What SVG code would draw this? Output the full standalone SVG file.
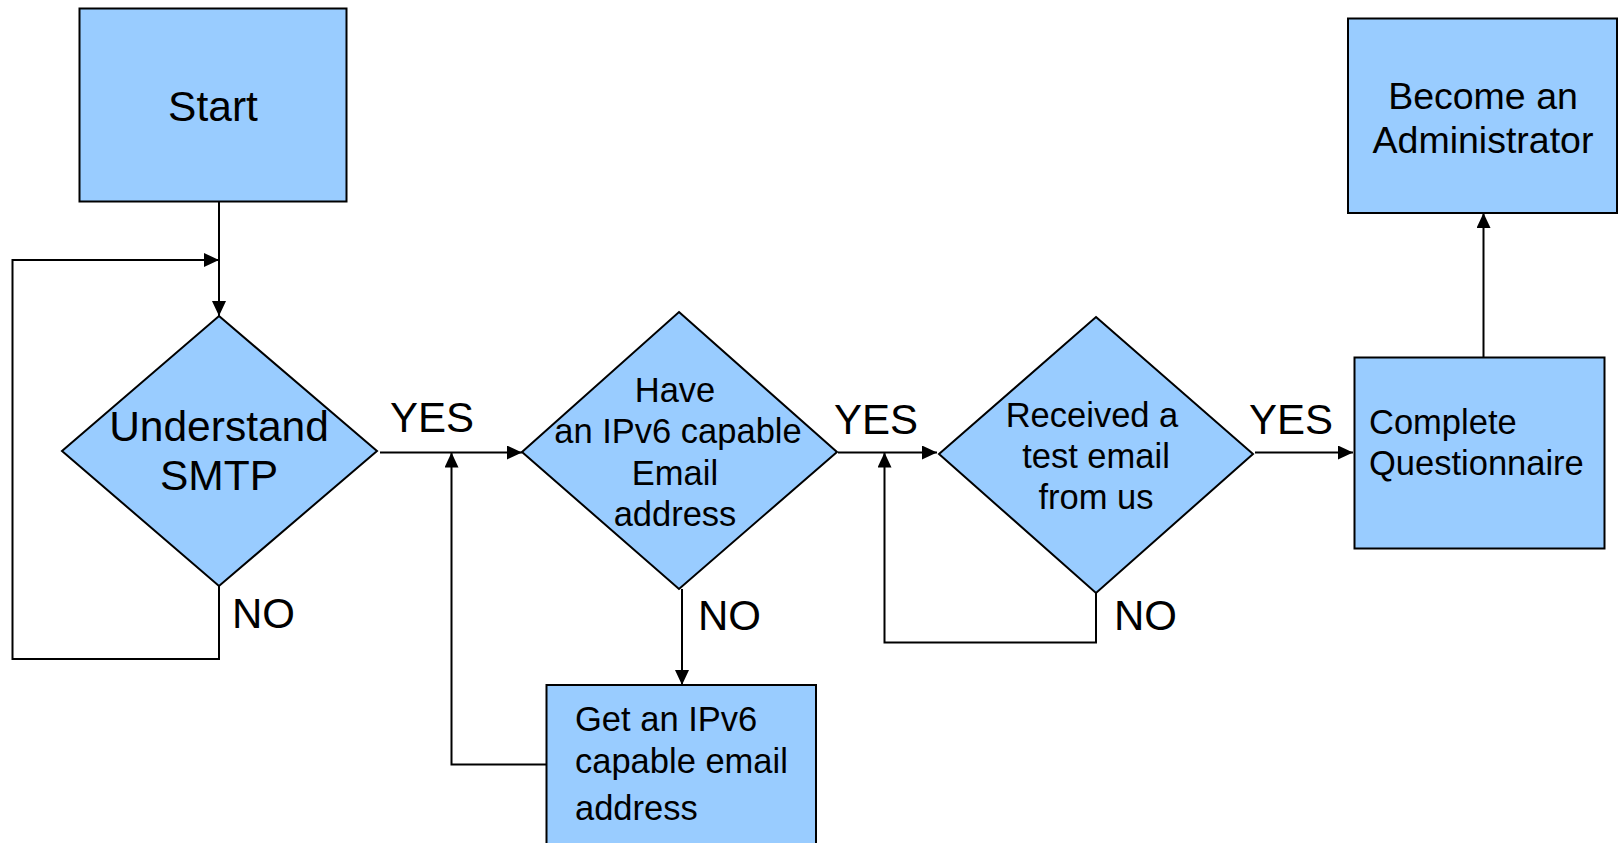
<svg xmlns="http://www.w3.org/2000/svg" width="1620" height="843" viewBox="0 0 1620 843">
<style>
.node{fill:#99ccff;stroke:#000;stroke-width:2}
.t{font-family:"Liberation Sans",Arial,sans-serif;fill:#000}
.c{text-anchor:middle}
.big{font-size:42.5px}
.lbl{font-size:42px}
.sm{font-size:34.5px}
.bec{font-size:37.5px}
.conn{fill:none;stroke:#000;stroke-width:2;marker-end:url(#ah)}
</style>
<defs>
<marker id="ah" markerUnits="userSpaceOnUse" markerWidth="15" markerHeight="14" refX="15" refY="7" orient="auto">
<path d="M0,0 L15,7 L0,14 z" fill="#000"/>
</marker>
</defs>
<rect width="1620" height="843" fill="#fff"/>
<g id="connectors">
<path class="conn" d="M219,202 V316"/>
<path class="conn" d="M219,586 V659 H12.5 V260 H219"/>
<path class="conn" d="M380,452.5 H522"/>
<path class="conn" d="M682,589 V685"/>
<path class="conn" d="M546.5,764.5 H451.5 V452.5"/>
<path class="conn" d="M838,452.5 H937"/>
<path class="conn" d="M1096,593 V642.5 H884.5 V452.5"/>
<path class="conn" d="M1255,452.5 H1353"/>
<path class="conn" d="M1483.5,357.5 V213"/>
</g>
<g id="labels">
<text class="t lbl" x="390" y="432">YES</text>
<text class="t lbl" x="834" y="434">YES</text>
<text class="t lbl" x="1249" y="434">YES</text>
<text class="t lbl" x="232" y="628">NO</text>
<text class="t lbl" x="698" y="630">NO</text>
<text class="t lbl" x="1114" y="630">NO</text>
</g>
<g id="start">
<rect class="node" x="79.5" y="8.5" width="267" height="193"/>
<text class="t c big" x="213" y="121">Start</text>
</g>
<g id="understand">
<polygon class="node" points="219,316 377,451 219,586 62,451"/>
<text class="t c big" x="219" y="441">Understand</text>
<text class="t c big" x="219" y="490">SMTP</text>
</g>
<g id="have">
<polygon class="node" points="679,312 837,452 679,589 522,452"/>
<text class="t c sm" x="675" y="402">Have</text>
<text class="t c sm" x="678" y="443">an IPv6 capable</text>
<text class="t c sm" x="675" y="485">Email</text>
<text class="t c sm" x="675" y="526">address</text>
</g>
<g id="getemail">
<rect class="node" x="546.5" y="685" width="269.5" height="170"/>
<text class="t sm" x="575" y="731">Get an IPv6</text>
<text class="t sm" x="575" y="773">capable email</text>
<text class="t sm" x="575" y="820">address</text>
</g>
<g id="received">
<polygon class="node" points="1096,317 1253,454 1096,593 939,454"/>
<text class="t c sm" x="1092" y="427">Received a</text>
<text class="t c sm" x="1096" y="468">test email</text>
<text class="t c sm" x="1096" y="509">from us</text>
</g>
<g id="complete">
<rect class="node" x="1354.5" y="357.5" width="250" height="191"/>
<text class="t sm" x="1369" y="434">Complete</text>
<text class="t sm" x="1369" y="475">Questionnaire</text>
</g>
<g id="become">
<rect class="node" x="1348" y="18.5" width="269" height="194.5"/>
<text class="t c bec" x="1483" y="109">Become an</text>
<text class="t c bec" x="1483" y="153">Administrator</text>
</g>
</svg>
